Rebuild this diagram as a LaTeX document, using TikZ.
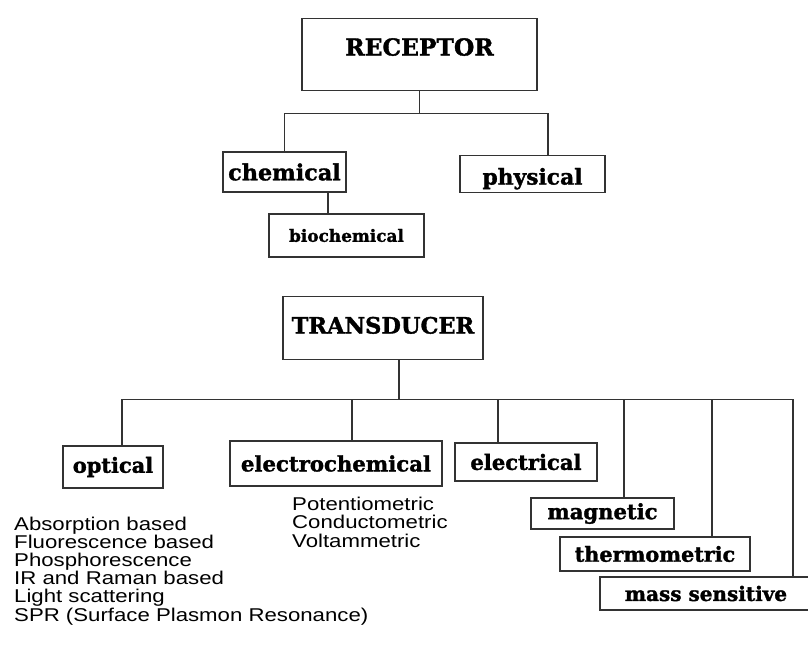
\documentclass[tikz,border=0pt]{standalone}
\usepackage{fontspec}
\newfontfamily\blockfont[FakeBold=1.5]{DejaVu Serif Bold}
\newfontfamily\listfont[FakeStretch=1.2]{Liberation Sans}
\newcommand\lblsize[1]{\blockfont\fontsize{#1}{#1}\selectfont}
\tikzset{
  block/.style={draw=black!80, line width=1.1pt, inner sep=0pt},
  bus/.style={draw=black!80, line width=1.1pt},
  items/.style={align=left, inner sep=0pt, anchor=north west,
    font=\listfont\fontsize{18.5}{18.2}\selectfont}
}

\begin{document}
\begin{tikzpicture}[x=1pt,y=-1pt]
\useasboundingbox (0,0) rectangle (808,671);

% receptor tree
\node[block, anchor=north, minimum width=235pt, text height=37pt, text depth=35pt,
  font=\lblsize{23.4}] (receptor) at (419.5,18) {RECEPTOR};
\node[block, minimum width=123pt, minimum height=40pt, font=\lblsize{22.3}]
  (chemical) at (284.5,172) {chemical};
\node[block, anchor=north, minimum width=145pt, text height=29pt, text depth=8pt,
  font=\lblsize{21.8}] (physical) at (532.5,155) {physical};
\node[block, minimum width=155pt, minimum height=43pt, font=\lblsize{16.9}]
  (biochemical) at (346.5,235.5) {biochemical};

\draw[bus] (receptor.south) -- ++(0,22) coordinate (rbus);
\draw[bus] (chemical.north) |- (rbus);
\draw[bus] ([xshift=15.5pt]physical.north) |- (rbus);
\coordinate (cdrop) at ([xshift=43.5pt]chemical.south);
\draw[bus] (cdrop) -- (cdrop |- biochemical.north);

% transducer tree
\node[block, anchor=north, minimum width=200pt, text height=37pt, text depth=26pt,
  font=\lblsize{22.5}] (transducer) at (383,296) {TRANSDUCER};
\node[block, minimum width=100pt, minimum height=42pt, font=\lblsize{20.9}]
  (optical) at (113,467) {optical};
\node[block, minimum width=212pt, minimum height=45pt, font=\lblsize{21.2}]
  (electrochemical) at (336,463.5) {electrochemical};
\node[block, minimum width=142pt, minimum height=38pt, font=\lblsize{21.1}]
  (electrical) at (526,462) {electrical};
\node[block, minimum width=143pt, minimum height=31pt, font=\lblsize{21.1}]
  (magnetic) at (602.5,513.5) {magnetic};
\node[block, minimum width=190pt, minimum height=34pt, font=\lblsize{20.7}]
  (thermometric) at (655,554) {thermometric};
\node[block, minimum width=212pt, minimum height=33pt, font=\lblsize{20}]
  (masssensitive) at (706,593.5) {mass sensitive};

\draw[bus] ([xshift=16pt]transducer.south) -- ++(0,39) coordinate (tbus);
\foreach \n/\s in {optical/9, electrochemical/16, electrical/-28,
  magnetic/21.5, thermometric/57, masssensitive/87}
  \draw[bus] ([xshift=\s pt]\n.north) |- (tbus);

% kinds of transducer
\node[items] (opticalkinds) at (14,516.5) {Absorption based\\Fluorescence based\\
  Phosphorescence\\IR and Raman based\\Light scattering\\
  SPR (Surface Plasmon Resonance)};
\node[items] (electrokinds) at (292,497) {Potentiometric\\Conductometric\\Voltammetric};
\end{tikzpicture}
\end{document}
